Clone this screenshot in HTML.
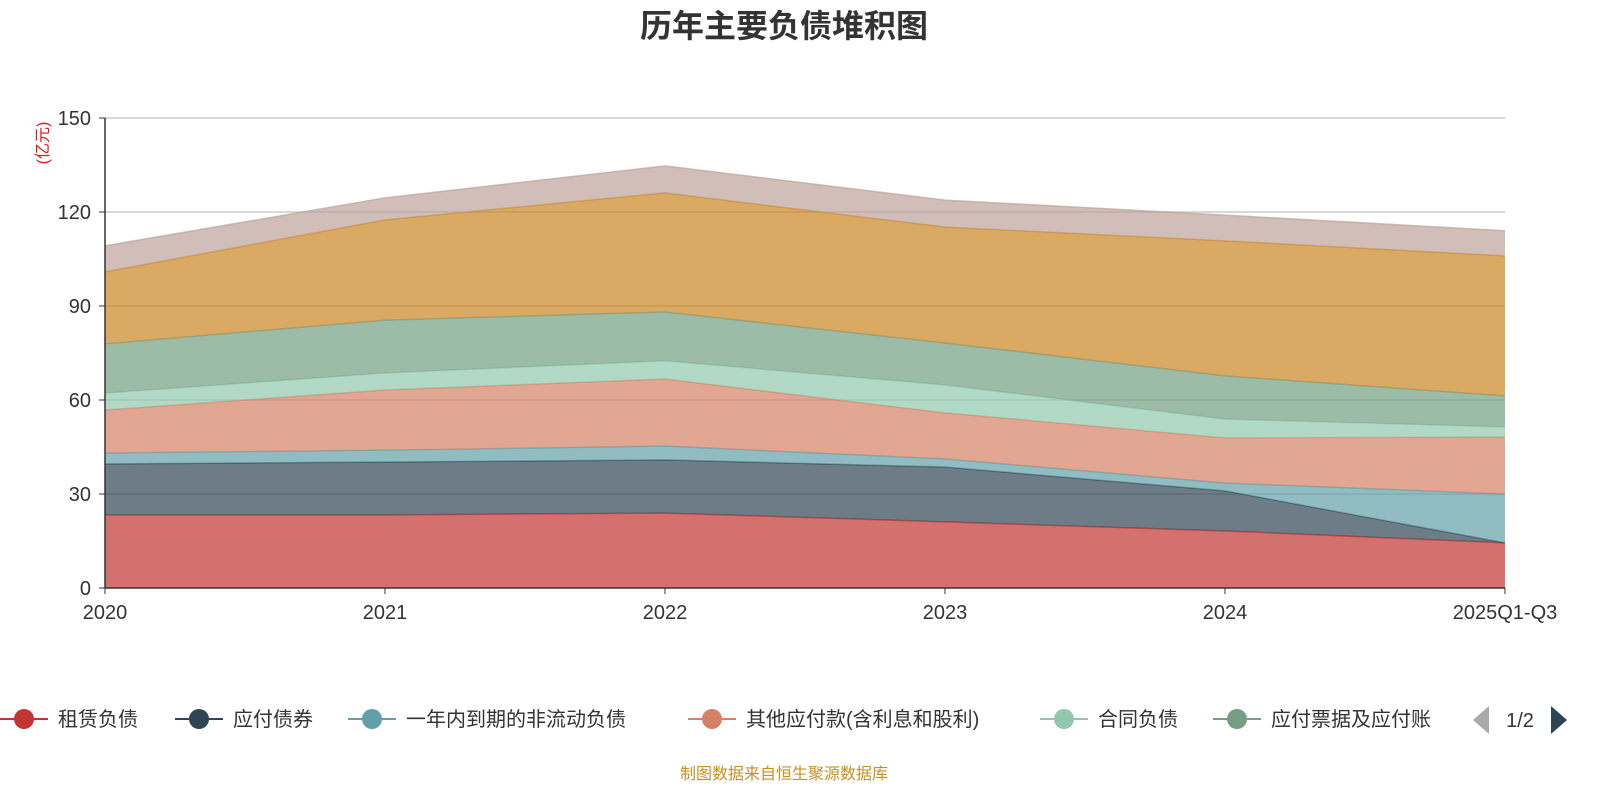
<!DOCTYPE html>
<html><head><meta charset="utf-8">
<style>
body{margin:0;background:#fff;}
svg text{font-family:"Liberation Sans","Noto Sans CJK SC",sans-serif;}
</style></head>
<body>
<svg id="chart" width="1600" height="800">
<text x="784" y="37" text-anchor="middle" font-size="32" font-weight="bold" fill="#333">历年主要负债堆积图</text>
<text transform="translate(48,143) rotate(-90)" text-anchor="middle" font-size="16" fill="#e8141b">(亿元)</text>
<g id="grid"></g>
<g id="areas"></g>
<g id="axes"></g>
<g id="legend"></g>
<text x="784" y="779" text-anchor="middle" font-size="16" fill="#c9901f">制图数据来自恒生聚源数据库</text>
</svg>
<script>
const categories=["2020","2021","2022","2023","2024","2025Q1-Q3"];
const seriesNames=["租赁负债","应付债券","一年内到期的非流动负债","其他应付款(含利息和股利)","合同负债","应付票据及应付账款","短期借款","长期借款"];
const s0=[23.3,23.3,23.9,21.1,18.2,14.4];
const s1=[16.3,16.9,17.0,17.5,12.8,0];
const s2=[3.5,3.8,4.4,2.6,2.5,15.6];
const s3=[13.7,19.2,21.4,14.7,14.4,18.2];
const s4=[5.4,5.4,5.8,8.9,6.0,3.2];
const s5=[15.7,16.9,15.6,13.4,13.8,9.9];
const s6=[23.0,32.0,38.0,37.0,43.1,44.7];
const s7=[8.3,7.0,8.6,8.6,8.2,8.0];
const yTicks=[0,30,60,90,120,150];
const series=[s0,s1,s2,s3,s4,s5,s6,s7];
const lineColors=["#c23531","#2f4554","#61a0a8","#d48265","#91c7ae","#749f83","#ca8622","#bda29a"];
const NS="http://www.w3.org/2000/svg";
const X0=105,X1=1505,Y0=588,Y1=118;
const xs=i=>X0+(X1-X0)*i/(categories.length-1);
const ys=v=>Y0-(v/150)*(Y0-Y1);
function mk(tag,attrs,parent){const e=document.createElementNS(NS,tag);for(const k in attrs)e.setAttribute(k,attrs[k]);parent.appendChild(e);return e;}
const grid=document.getElementById('grid'),axes=document.getElementById('axes'),areas=document.getElementById('areas'),legend=document.getElementById('legend');
yTicks.forEach(t=>{
  if(t>0){const l=mk('line',{x1:X0,x2:X1,y1:ys(t),y2:ys(t),stroke:'#ccc','stroke-width':1.5},grid);
  
  }
  const tx=mk('text',{x:X0-14,y:ys(t)+7,'text-anchor':'end','font-size':20,fill:'#333'},axes);tx.textContent=t;
  
  
  mk('line',{x1:X0-6,x2:X0,y1:ys(t),y2:ys(t),stroke:'#333'},axes);
});
let base=categories.map(()=>0);
series.forEach((s,k)=>{
  const top=base.map((b,i)=>b+s[i]);
  let d='M'+top.map((v,i)=>xs(i)+','+ys(v)).join('L');
  for(let i=categories.length-1;i>=0;i--)d+='L'+xs(i)+','+ys(base[i]);
  const p=mk('path',{d:d+'Z',fill:lineColors[k],'fill-opacity':0.7},areas);
  
  
  const ln=mk('polyline',{points:top.map((v,i)=>xs(i)+','+ys(v)).join(' '),fill:'none',stroke:lineColors[k],'stroke-width':1.5,'stroke-opacity':0.7},areas);
  
  
  base=top;
});
mk('line',{x1:X0,x2:X0,y1:Y1,y2:Y0,stroke:'#333','stroke-width':1.5},axes);
mk('line',{x1:X0,x2:X1,y1:Y0,y2:Y0,stroke:'#333','stroke-width':1.5},axes);
categories.forEach((c,i)=>{
  mk('line',{x1:xs(i),x2:xs(i),y1:Y0,y2:Y0+6,stroke:'#333'},axes);
  const tx=mk('text',{x:xs(i),y:Y0+31,'text-anchor':'middle','font-size':20,fill:'#333'},axes);tx.textContent=c;
  
  
});
const legX=[0,175,348,688,1040,1213];
const legLabels=["租赁负债","应付债券","一年内到期的非流动负债","其他应付款(含利息和股利)","合同负债","应付票据及应付账"];
legX.forEach((x,k)=>{
  const g=mk('g',{},legend);
  
  
  mk('line',{x1:x,x2:x+48,y1:719,y2:719,stroke:lineColors[k],'stroke-width':2},g);
  mk('circle',{cx:x+24,cy:719,r:10,fill:lineColors[k]},g);
  const t=mk('text',{x:x+58,y:726,'font-size':20,fill:'#333'},g);t.textContent=legLabels[k];
});
const pl=mk('path',{d:'M1489,706 L1489,734 L1473,720Z',fill:'#aaa'},legend);


const pt=mk('text',{x:1520,y:727,'text-anchor':'middle','font-size':20,fill:'#333'},legend);pt.textContent='1/2';


const pn=mk('path',{d:'M1551,706 L1551,734 L1567,720Z',fill:'#2f4554'},legend);


</script>
</body></html>
